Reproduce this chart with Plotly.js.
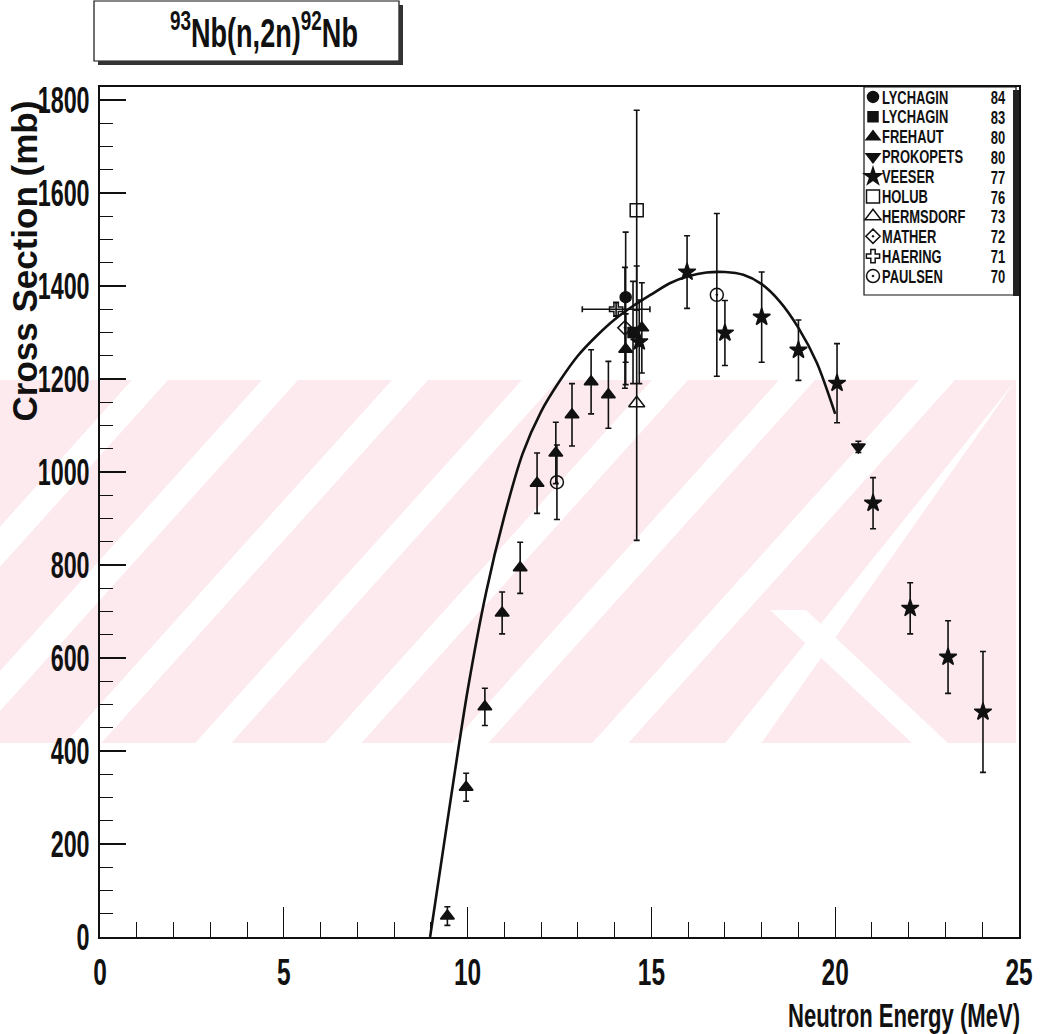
<!DOCTYPE html>
<html><head><meta charset="utf-8">
<script src="https://cdn.plot.ly/plotly-3.0.1.min.js"></script>
<style>html,body{margin:0;padding:0;background:#fff}#chart{width:1040px;height:1034px}</style>
</head><body><div id="chart"></div>
<script>
// ---- data ----
const curveE  = [8.98, 9.5, 10.0, 10.5, 11.0, 11.5, 12.0, 12.5, 13.0, 13.5, 14.0, 14.5, 15.0, 15.5, 16.0, 16.5, 17.0, 17.5, 18.0, 18.5, 19.0, 19.5, 20.0];
const curveXS = [0, 275, 530, 740, 905, 1040, 1130, 1195, 1250, 1292, 1328, 1357, 1382, 1406, 1421, 1429, 1430, 1424, 1404, 1366, 1310, 1235, 1125];

const lych84E = [14.3];  const lych84XS = [1376]; const lych84Err = [140];
const lych83E = [14.5];  const lych83XS = [1300]; const lych83Err = [110];
const frehE   = [9.45, 9.96, 10.47, 10.94, 11.43, 11.89, 12.4, 12.84, 13.36, 13.83, 14.3, 14.74];
const frehXS  = [45, 322, 495, 697, 794, 976, 1041, 1123, 1194, 1166, 1264, 1310];
const frehErr = [20, 30, 40, 45, 55, 65, 66, 67, 69, 72, 76, 97];
const prokE   = [20.63]; const prokXS = [1054]; const prokErr = [12];
const veesE   = [14.67, 15.97, 17.0, 18.0, 19.0, 20.05, 21.03, 22.04, 23.07, 24.02];
const veesXS  = [1280, 1430, 1299, 1333, 1262, 1191, 933, 707, 602, 484];
const veesErr = [90, 78, 70, 97, 65, 85, 55, 55, 78, 130];
const holubE  = [14.6];  const holubXS = [1563]; const holubErr = [215];
const hermE   = [14.6];  const hermXS  = [1148]; const hermErr  = [295];
const mathE   = [14.28]; const mathXS  = [1310]; const mathErr  = [130];
const haerE   = [14.04]; const haerXS  = [1350]; const haerErr  = [15]; const haerXErr = [0.92];
const paulE   = [12.43, 16.78]; const paulXS = [978, 1381]; const paulErr = [80, 175];

const legendNames = ['LYCHAGIN','LYCHAGIN','FREHAUT','PROKOPETS','VEESER','HOLUB','HERMSDORF','MATHER','HAERING','PAULSEN'];
const legendYears = ['84','83','80','80','77','76','73','72','71','70'];
const xTickVals = [0, 5, 10, 15, 20, 25];
const yTickVals = [0, 200, 400, 600, 800, 1000, 1200, 1400, 1600, 1800];

// ---- style ----
const FONT = '"Liberation Sans", Arial, Helvetica, sans-serif';
const INK = '#111';
const PINK = '#fdeaee';

function pts(i, xs, ys, err, symbol, size, xerr) {
  const t = {
    type: 'scatter', mode: 'markers', x: xs, y: ys,
    name: legendNames[i], showlegend: true,
    marker: {symbol: symbol, size: size, color: INK, line: {color: INK, width: 1.5}},
    error_y: {type: 'data', array: err, visible: true, color: INK, thickness: 1.6, width: 3}
  };
  if (xerr) t.error_x = {type: 'data', array: xerr, visible: true, color: INK, thickness: 1.6, width: 3};
  return t;
}

const traces = [
  {type: 'scatter', mode: 'lines', x: curveE, y: curveXS, showlegend: false,
   line: {color: INK, width: 2.6, shape: 'spline', smoothing: 0.8}, hoverinfo: 'skip'},
  pts(0, lych84E, lych84XS, lych84Err, 'circle', 11),
  pts(1, lych83E, lych83XS, lych83Err, 'square', 10),
  pts(2, frehE, frehXS, frehErr, 'triangle-up', 12),
  pts(3, prokE, prokXS, prokErr, 'triangle-down', 12),
  pts(4, veesE, veesXS, veesErr, 'star', 13),
  pts(5, holubE, holubXS, holubErr, 'square-open', 13),
  pts(6, hermE, hermXS, hermErr, 'triangle-up-open', 14),
  pts(7, mathE, mathXS, mathErr, 'diamond-open-dot', 11),
  pts(8, haerE, haerXS, haerErr, 'cross-open', 11, haerXErr),
  pts(9, paulE, paulXS, paulErr, 'circle-open-dot', 13)
];

// plot area in pixels: x 100..1019, y 87..937
const L = 100, R = 1019, T = 87, B = 937;
const px = v => (v - L) / (R - L);
const py = v => (B - v) / (B - T);

const annotations = [
  {text: '<sup>93</sup>Nb(n,2n)<sup>92</sup>Nb', xref: 'paper', yref: 'paper', x: px(264), y: py(30),
   xanchor: 'center', yanchor: 'middle', showarrow: false, font: {family: FONT, size: 40, color: INK, weight: 'bold'}},
  {text: 'Cross Section (mb)', xref: 'paper', yref: 'paper', x: px(24), y: py(99), textangle: -90,
   xanchor: 'center', yanchor: 'top', showarrow: false, font: {family: FONT, size: 35, color: INK, weight: 'bold'}},
  {text: 'Neutron Energy (MeV)', xref: 'paper', yref: 'paper', x: px(1022), y: py(1015), align: 'right',
   xanchor: 'right', yanchor: 'middle', showarrow: false, font: {family: FONT, size: 34, color: INK, weight: 'bold'}}
];
legendYears.forEach((yr, i) => {
  annotations.push({text: yr, xref: 'paper', yref: 'paper', x: px(998), y: py(98 + i * 19.9),
    xanchor: 'center', yanchor: 'middle', showarrow: false, font: {family: FONT, size: 18, color: INK, weight: 'bold'}});
});

// faint pink watermark of the scanned page (band with diagonal white gaps)
const WM_TOP = 380, WM_BOT = 743, WM_SLOPE = 0.9, WM_GAP = 36;
const wmStripes = [150, 280, 410, 540, 670, 797, 937, 1070];
function band(xTop0, xTop1, xBot1, xBot0, yTop, yBot) {
  const c = v => Math.min(v, 1016);
  return {type: 'path', xref: 'paper', yref: 'paper', layer: 'below', line: {width: 0}, fillcolor: '#fff',
    path: `M${px(c(xTop0))},${py(yTop)} L${px(c(xTop1))},${py(yTop)} L${px(c(xBot1))},${py(yBot)} L${px(c(xBot0))},${py(yBot)} Z`};
}
const shapes = [
  {type: 'rect', xref: 'paper', yref: 'paper', x0: px(-5), x1: px(1016), y0: py(WM_TOP), y1: py(WM_BOT),
   line: {width: 0}, fillcolor: PINK, layer: 'below'}
];
wmStripes.forEach(xt => {
  const xb = xt - WM_SLOPE * (WM_BOT - WM_TOP);
  shapes.push(band(xt - WM_GAP / 2, xt + WM_GAP / 2, xb + WM_GAP / 2, xb - WM_GAP / 2, WM_TOP, WM_BOT));
});
// one gap running the other way near the lower right
shapes.push(band(770, 806, 948, 912, 610, WM_BOT));

shapes.push(
  // title pave with shadow
  {type: 'rect', xref: 'paper', yref: 'paper', x0: px(94), x1: px(399), y0: py(1), y1: py(61), line: {color: INK, width: 1.2}, fillcolor: 'rgba(0,0,0,0)'},
  {type: 'rect', xref: 'paper', yref: 'paper', x0: px(98), x1: px(403), y0: py(61), y1: py(65), line: {width: 0}, fillcolor: '#333'},
  {type: 'rect', xref: 'paper', yref: 'paper', x0: px(399), x1: px(403), y0: py(5), y1: py(65), line: {width: 0}, fillcolor: '#333'},
  // legend box with shadow
  {type: 'rect', xref: 'paper', yref: 'paper', x0: px(864), x1: px(1016), y0: py(87), y1: py(295), line: {color: INK, width: 1.2}, fillcolor: '#fff', layer: 'below'},
  {type: 'rect', xref: 'paper', yref: 'paper', x0: px(1013), x1: px(1019), y0: py(90), y1: py(296), line: {width: 0}, fillcolor: '#222'}
);

const layout = {
  width: 1040, height: 1034,
  margin: {l: L, r: 1040 - R, t: T, b: 1034 - B, pad: 0},
  paper_bgcolor: '#fff', plot_bgcolor: 'rgba(0,0,0,0)',
  showlegend: true,
  legend: {x: px(853), y: py(82), xanchor: 'left', yanchor: 'top', bgcolor: 'rgba(0,0,0,0)',
           borderwidth: 0, font: {family: FONT, size: 13, color: INK, weight: 'bold'},
           itemwidth: 30, tracegroupgap: 0},
  xaxis: {range: [0, 25], tickvals: xTickVals, ticktext: xTickVals.map(String), ticks: 'inside', ticklen: 30, tickwidth: 1.3,
          tickcolor: INK, showline: true, linecolor: INK, linewidth: 2, mirror: true, showgrid: false, zeroline: false,
          ticklabelstandoff: 2, tickfont: {family: FONT, size: 37, color: INK, weight: 'bold'},
          minor: {dtick: 1, tick0: 0, ticks: 'inside', ticklen: 15, tickwidth: 1, tickcolor: INK, showgrid: false}},
  yaxis: {range: [0, 1828], tickvals: yTickVals, ticktext: yTickVals.map(String), ticks: 'inside', ticklen: 26, tickwidth: 1.3,
          tickcolor: INK, showline: true, linecolor: INK, linewidth: 2, mirror: true, showgrid: false, zeroline: false,
          ticklabelstandoff: 1, tickfont: {family: FONT, size: 37, color: INK, weight: 'bold'},
          minor: {dtick: 50, tick0: 0, ticks: 'inside', ticklen: 13, tickwidth: 1, tickcolor: INK, showgrid: false}},
  annotations: annotations,
  shapes: shapes
};

function condense(el, factor, target) {
  try {
    const len = el.getComputedTextLength();
    if (!len) return;
    el.setAttribute('textLength', (target != null ? target : len * factor).toFixed(1));
    el.setAttribute('lengthAdjust', 'spacingAndGlyphs');
  } catch (e) {}
}

Plotly.newPlot('chart', traces, layout, {staticPlot: true, displayModeBar: false}).then(gd => {
  // narrow bold lettering like the original ROOT plot
  gd.querySelectorAll('.xtick text').forEach(el => condense(el, 0.66));
  gd.querySelectorAll('.ytick text').forEach(el => condense(el, 0.63));
  gd.querySelectorAll('.annotation-text').forEach(el => {
    const s = el.textContent;
    if (s.indexOf('Nb(n,2n)') >= 0) condense(el, 0, 188);
    else if (s.indexOf('Neutron') >= 0) condense(el, 0, 232);
    else if (s.indexOf('Cross') >= 0) condense(el, 1.0);
    else condense(el, 0.72);
  });
  gd.querySelectorAll('.legendtext').forEach(el => {
    el.style.fontSize = '19px';
    const x = parseFloat(el.getAttribute('x') || '40');
    el.setAttribute('x', (x - 11).toString());
    const y = parseFloat(el.getAttribute('y') || '0');
    el.setAttribute('y', (y + 1.5).toString());
    condense(el, 0.68);
  });
});
</script>
</body></html>
